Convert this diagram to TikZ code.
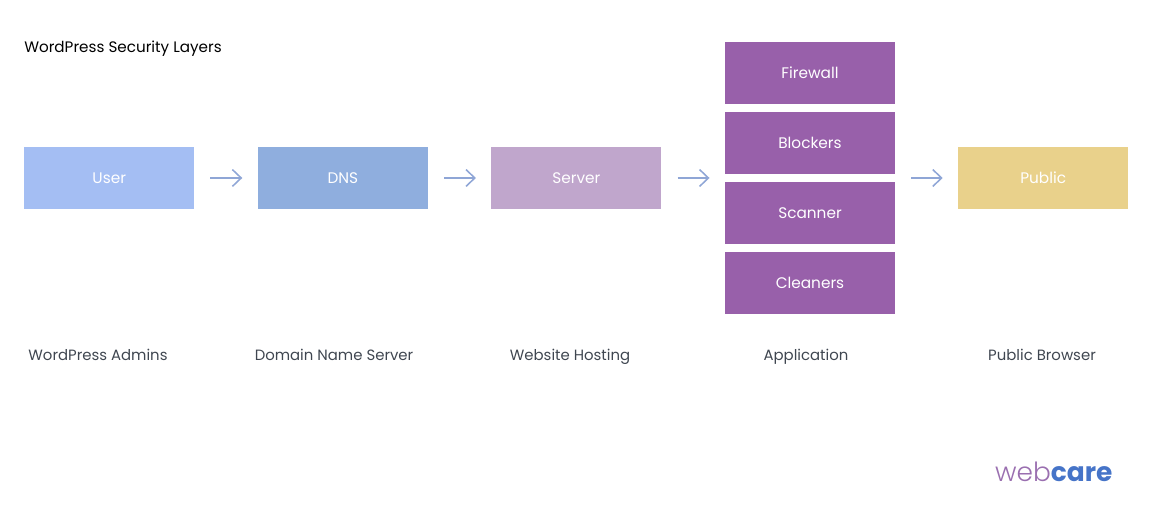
\documentclass[tikz,border=0pt]{standalone}
\usepackage{fontspec}
\setmainfont{Poppins}
\newfontfamily\logolight{Poppins Light}
\usetikzlibrary{arrows.meta,calc}
\definecolor{userblue}{HTML}{A4BEF3}
\definecolor{dnsblue}{HTML}{8FAEDE}
\definecolor{serverlilac}{HTML}{C0A6CC}
\definecolor{apppurple}{HTML}{9860AA}
\definecolor{publicsand}{HTML}{E9D18B}
\definecolor{arrowblue}{HTML}{8FA6D6}
\definecolor{captiongray}{HTML}{3F4650}
\definecolor{logopurple}{HTML}{9A6FB0}
\definecolor{logoblue}{HTML}{4674C8}
\begin{document}
\begin{tikzpicture}[
  block/.style={rectangle, minimum width=4.25cm, minimum height=1.55cm, inner sep=0pt, text=white, text height=3.8mm, text depth=0.9mm, font=\fontsize{10.9}{13}\selectfont},
  caption/.style={text=captiongray, inner sep=0pt, text height=2.8mm, text depth=0.9mm, font=\fontsize{10.6}{13}\selectfont},
  link/.style={-{Straight Barb[length=2.2mm,width=4.2mm]}, arrowblue, line width=1.1pt, shorten <=4mm, shorten >=3.8mm},
  node distance=5.84cm
]
\useasboundingbox (0,0) rectangle (29,13);
\node[anchor=west, inner sep=0pt, font=\fontsize{10.8}{13}\selectfont] (title) at (0.6,11.79) {WordPress Security Layers};

\node[block, fill=userblue] (user) at (2.73,8.55) {User};
\node[block, fill=dnsblue, right of=user] (dns) {DNS};
\node[block, fill=serverlilac, right of=dns] (server) {Server};
\node[block, fill=apppurple, right of=server, yshift=2.625cm] (firewall) {Firewall};
\node[block, fill=apppurple, below of=firewall, node distance=1.75cm] (blockers) {Blockers};
\node[block, fill=apppurple, below of=blockers, node distance=1.75cm] (scanner) {Scanner};
\node[block, fill=apppurple, below of=scanner, node distance=1.75cm] (cleaners) {Cleaners};
\coordinate (appin) at ($(blockers.west)!0.5!(scanner.west)$);
\coordinate (appout) at ($(blockers.east)!0.5!(scanner.east)$);
\node[block, fill=publicsand, right of=server, node distance=11.67cm] (public) {Public};

\node[caption] (admins) at (2.45,4.07) {WordPress Admins};
\node[caption, right of=admins, node distance=5.9cm] (dnsname) {Domain Name Server};
\node[caption, right of=dnsname, node distance=5.9cm] (hosting) {Website Hosting};
\node[caption, right of=hosting, node distance=5.9cm] (application) {Application};
\node[caption, right of=application, node distance=5.9cm] (browser) {Public Browser};

\node[anchor=east, inner sep=0pt, font=\fontsize{18.8}{22}\selectfont] (logo) at (27.82,1.2) {{\logolight\color{logopurple}web}{\bfseries\color{logoblue}care}};

\draw[link] (user) -- (dns);
\draw[link] (dns) -- (server);
\draw[link] (server) -- (appin);
\draw[link] (appout) -- (public);
\end{tikzpicture}
\end{document}
